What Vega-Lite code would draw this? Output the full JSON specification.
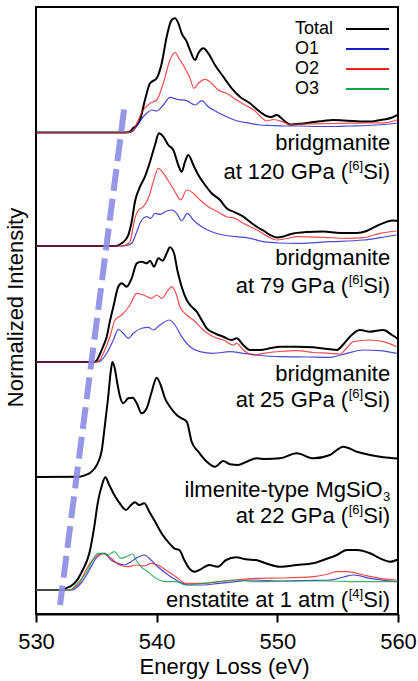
{
  "$schema": "https://vega.github.io/schema/vega-lite/v6.json",
  "autosize": "none",
  "width": 362,
  "height": 607,
  "padding": {"left": 36, "top": 7, "right": 20, "bottom": 67},
  "background": "white",
  "config": {
    "font": "Liberation Sans",
    "view": {"stroke": "#000", "strokeWidth": 2},
    "axis": {"grid": false}
  },
  "datasets": {
    "spectra": [
      {"sample":"120","site":"Total","ev":530,"int":481.5},
      {"sample":"120","site":"Total","ev":537.5,"int":481.5},
      {"sample":"120","site":"Total","ev":537.85,"int":483},
      {"sample":"120","site":"Total","ev":538.06,"int":486},
      {"sample":"120","site":"Total","ev":538.3,"int":488},
      {"sample":"120","site":"Total","ev":538.62,"int":494},
      {"sample":"120","site":"Total","ev":539.03,"int":514},
      {"sample":"120","site":"Total","ev":539.45,"int":530.7},
      {"sample":"120","site":"Total","ev":540.0,"int":535.7},
      {"sample":"120","site":"Total","ev":540.42,"int":550.7},
      {"sample":"120","site":"Total","ev":540.83,"int":577.3},
      {"sample":"120","site":"Total","ev":541.24,"int":594},
      {"sample":"120","site":"Total","ev":541.52,"int":595.7},
      {"sample":"120","site":"Total","ev":541.8,"int":590.7},
      {"sample":"120","site":"Total","ev":542.07,"int":580.7},
      {"sample":"120","site":"Total","ev":542.49,"int":572.3},
      {"sample":"120","site":"Total","ev":542.76,"int":564},
      {"sample":"120","site":"Total","ev":543.18,"int":554},
      {"sample":"120","site":"Total","ev":543.45,"int":560.7},
      {"sample":"120","site":"Total","ev":543.87,"int":565.7},
      {"sample":"120","site":"Total","ev":544.28,"int":560.7},
      {"sample":"120","site":"Total","ev":544.83,"int":549},
      {"sample":"120","site":"Total","ev":545.52,"int":537.3},
      {"sample":"120","site":"Total","ev":546.22,"int":525.7},
      {"sample":"120","site":"Total","ev":546.9,"int":517.3},
      {"sample":"120","site":"Total","ev":547.73,"int":510.7},
      {"sample":"120","site":"Total","ev":548.56,"int":502.3},
      {"sample":"120","site":"Total","ev":549.1,"int":498},
      {"sample":"120","site":"Total","ev":549.5,"int":497},
      {"sample":"120","site":"Total","ev":549.95,"int":499},
      {"sample":"120","site":"Total","ev":550.5,"int":494},
      {"sample":"120","site":"Total","ev":551.05,"int":489.5},
      {"sample":"120","site":"Total","ev":551.6,"int":490},
      {"sample":"120","site":"Total","ev":552.15,"int":490.5},
      {"sample":"120","site":"Total","ev":553.0,"int":492},
      {"sample":"120","site":"Total","ev":553.8,"int":493},
      {"sample":"120","site":"Total","ev":554.6,"int":494},
      {"sample":"120","site":"Total","ev":555.5,"int":493.5},
      {"sample":"120","site":"Total","ev":556.3,"int":493},
      {"sample":"120","site":"Total","ev":557.1,"int":492.5},
      {"sample":"120","site":"Total","ev":557.7,"int":492.5},
      {"sample":"120","site":"Total","ev":558.3,"int":493.5},
      {"sample":"120","site":"Total","ev":558.8,"int":494.5},
      {"sample":"120","site":"Total","ev":559.4,"int":496},
      {"sample":"120","site":"Total","ev":560,"int":499.5},

      {"sample":"120","site":"O2","ev":530,"int":481.5},
      {"sample":"120","site":"O2","ev":537.6,"int":481.5},
      {"sample":"120","site":"O2","ev":537.95,"int":483},
      {"sample":"120","site":"O2","ev":538.2,"int":486.5},
      {"sample":"120","site":"O2","ev":538.35,"int":490.7},
      {"sample":"120","site":"O2","ev":538.89,"int":504},
      {"sample":"120","site":"O2","ev":539.45,"int":510.7},
      {"sample":"120","site":"O2","ev":540.0,"int":514},
      {"sample":"120","site":"O2","ev":540.55,"int":530.7},
      {"sample":"120","site":"O2","ev":541.1,"int":554},
      {"sample":"120","site":"O2","ev":541.52,"int":561.3},
      {"sample":"120","site":"O2","ev":541.93,"int":554},
      {"sample":"120","site":"O2","ev":542.35,"int":545.7},
      {"sample":"120","site":"O2","ev":542.76,"int":535.7},
      {"sample":"120","site":"O2","ev":543.09,"int":525.7},
      {"sample":"120","site":"O2","ev":543.45,"int":530.7},
      {"sample":"120","site":"O2","ev":544.01,"int":534.7},
      {"sample":"120","site":"O2","ev":544.56,"int":530.7},
      {"sample":"120","site":"O2","ev":545.11,"int":524},
      {"sample":"120","site":"O2","ev":545.8,"int":520.7},
      {"sample":"120","site":"O2","ev":546.63,"int":514},
      {"sample":"120","site":"O2","ev":547.46,"int":508},
      {"sample":"120","site":"O2","ev":548.1,"int":503.5},
      {"sample":"120","site":"O2","ev":548.56,"int":498},
      {"sample":"120","site":"O2","ev":549.12,"int":493},
      {"sample":"120","site":"O2","ev":549.67,"int":494.5},
      {"sample":"120","site":"O2","ev":550.49,"int":492},
      {"sample":"120","site":"O2","ev":551.05,"int":489.5},
      {"sample":"120","site":"O2","ev":552.0,"int":490},
      {"sample":"120","site":"O2","ev":553.26,"int":490.2},
      {"sample":"120","site":"O2","ev":554.6,"int":490.5},
      {"sample":"120","site":"O2","ev":556.0,"int":490.9},
      {"sample":"120","site":"O2","ev":557.4,"int":491},
      {"sample":"120","site":"O2","ev":558.78,"int":491.2},
      {"sample":"120","site":"O2","ev":559.5,"int":492.5},
      {"sample":"120","site":"O2","ev":560,"int":494.5},

      {"sample":"120","site":"O1","ev":530,"int":481.5},
      {"sample":"120","site":"O1","ev":537.7,"int":481.5},
      {"sample":"120","site":"O1","ev":538.05,"int":483},
      {"sample":"120","site":"O1","ev":538.48,"int":490.7},
      {"sample":"120","site":"O1","ev":539.17,"int":500.7},
      {"sample":"120","site":"O1","ev":539.59,"int":504},
      {"sample":"120","site":"O1","ev":540.0,"int":503},
      {"sample":"120","site":"O1","ev":540.55,"int":509},
      {"sample":"120","site":"O1","ev":541.1,"int":516.7},
      {"sample":"120","site":"O1","ev":541.66,"int":514.7},
      {"sample":"120","site":"O1","ev":542.49,"int":513.3},
      {"sample":"120","site":"O1","ev":543.18,"int":509},
      {"sample":"120","site":"O1","ev":543.73,"int":513.3},
      {"sample":"120","site":"O1","ev":544.28,"int":507.3},
      {"sample":"120","site":"O1","ev":544.97,"int":502.3},
      {"sample":"120","site":"O1","ev":545.8,"int":497.3},
      {"sample":"120","site":"O1","ev":546.63,"int":493.3},
      {"sample":"120","site":"O1","ev":547.73,"int":490.7},
      {"sample":"120","site":"O1","ev":548.56,"int":489},
      {"sample":"120","site":"O1","ev":549.5,"int":488.5},
      {"sample":"120","site":"O1","ev":550.5,"int":488},
      {"sample":"120","site":"O1","ev":552,"int":488},
      {"sample":"120","site":"O1","ev":553.26,"int":487.5},
      {"sample":"120","site":"O1","ev":554.6,"int":487.5},
      {"sample":"120","site":"O1","ev":556.0,"int":488},
      {"sample":"120","site":"O1","ev":557.4,"int":488.5},
      {"sample":"120","site":"O1","ev":558.8,"int":489.5},
      {"sample":"120","site":"O1","ev":560,"int":491},

      {"sample":"79","site":"Total","ev":530,"int":368},
      {"sample":"79","site":"Total","ev":536.6,"int":368},
      {"sample":"79","site":"Total","ev":537.1,"int":370.7},
      {"sample":"79","site":"Total","ev":537.4,"int":374},
      {"sample":"79","site":"Total","ev":537.65,"int":379},
      {"sample":"79","site":"Total","ev":537.93,"int":392.3},
      {"sample":"79","site":"Total","ev":538.2,"int":412.3},
      {"sample":"79","site":"Total","ev":538.62,"int":427.3},
      {"sample":"79","site":"Total","ev":539.03,"int":437.3},
      {"sample":"79","site":"Total","ev":539.45,"int":452.3},
      {"sample":"79","site":"Total","ev":539.86,"int":469},
      {"sample":"79","site":"Total","ev":540.19,"int":480.7},
      {"sample":"79","site":"Total","ev":540.55,"int":477.3},
      {"sample":"79","site":"Total","ev":540.96,"int":469},
      {"sample":"79","site":"Total","ev":541.38,"int":464},
      {"sample":"79","site":"Total","ev":541.79,"int":449},
      {"sample":"79","site":"Total","ev":542.07,"int":442.3},
      {"sample":"79","site":"Total","ev":542.35,"int":452.3},
      {"sample":"79","site":"Total","ev":542.62,"int":459},
      {"sample":"79","site":"Total","ev":543.04,"int":449},
      {"sample":"79","site":"Total","ev":543.45,"int":439},
      {"sample":"79","site":"Total","ev":544.01,"int":429},
      {"sample":"79","site":"Total","ev":544.56,"int":420.7},
      {"sample":"79","site":"Total","ev":545.25,"int":414},
      {"sample":"79","site":"Total","ev":545.8,"int":405.7},
      {"sample":"79","site":"Total","ev":546.49,"int":401.7},
      {"sample":"79","site":"Total","ev":547.18,"int":397.3},
      {"sample":"79","site":"Total","ev":547.88,"int":390.7},
      {"sample":"79","site":"Total","ev":548.4,"int":386.5},
      {"sample":"79","site":"Total","ev":548.84,"int":383.5},
      {"sample":"79","site":"Total","ev":549.4,"int":379},
      {"sample":"79","site":"Total","ev":549.95,"int":376.5},
      {"sample":"79","site":"Total","ev":550.5,"int":377.5},
      {"sample":"79","site":"Total","ev":551.05,"int":379.8},
      {"sample":"79","site":"Total","ev":552.43,"int":382},
      {"sample":"79","site":"Total","ev":553.81,"int":382.5},
      {"sample":"79","site":"Total","ev":555.19,"int":381},
      {"sample":"79","site":"Total","ev":556.58,"int":381},
      {"sample":"79","site":"Total","ev":557.4,"int":383},
      {"sample":"79","site":"Total","ev":558.23,"int":388},
      {"sample":"79","site":"Total","ev":559.61,"int":393.5},
      {"sample":"79","site":"Total","ev":560,"int":393},

      {"sample":"79","site":"O2","ev":530,"int":368},
      {"sample":"79","site":"O2","ev":537.1,"int":368},
      {"sample":"79","site":"O2","ev":537.5,"int":369.5},
      {"sample":"79","site":"O2","ev":537.79,"int":372.3},
      {"sample":"79","site":"O2","ev":538.2,"int":395.7},
      {"sample":"79","site":"O2","ev":538.48,"int":404},
      {"sample":"79","site":"O2","ev":538.89,"int":407.3},
      {"sample":"79","site":"O2","ev":539.31,"int":415.7},
      {"sample":"79","site":"O2","ev":539.72,"int":432.3},
      {"sample":"79","site":"O2","ev":540.14,"int":445.7},
      {"sample":"79","site":"O2","ev":540.55,"int":440.7},
      {"sample":"79","site":"O2","ev":541.1,"int":430.7},
      {"sample":"79","site":"O2","ev":541.52,"int":422.3},
      {"sample":"79","site":"O2","ev":541.99,"int":414},
      {"sample":"79","site":"O2","ev":542.49,"int":424},
      {"sample":"79","site":"O2","ev":543.04,"int":420.7},
      {"sample":"79","site":"O2","ev":543.59,"int":414},
      {"sample":"79","site":"O2","ev":544.28,"int":407.3},
      {"sample":"79","site":"O2","ev":545.11,"int":401.7},
      {"sample":"79","site":"O2","ev":545.8,"int":397.3},
      {"sample":"79","site":"O2","ev":546.49,"int":395.7},
      {"sample":"79","site":"O2","ev":547.18,"int":390.7},
      {"sample":"79","site":"O2","ev":548.01,"int":385.7},
      {"sample":"79","site":"O2","ev":548.56,"int":382.3},
      {"sample":"79","site":"O2","ev":549.12,"int":378},
      {"sample":"79","site":"O2","ev":549.95,"int":374},
      {"sample":"79","site":"O2","ev":550.8,"int":375.5},
      {"sample":"79","site":"O2","ev":551.6,"int":377.3},
      {"sample":"79","site":"O2","ev":553.81,"int":376.7},
      {"sample":"79","site":"O2","ev":555.75,"int":375.7},
      {"sample":"79","site":"O2","ev":557.12,"int":376.3},
      {"sample":"79","site":"O2","ev":558.51,"int":380.7},
      {"sample":"79","site":"O2","ev":559.89,"int":383},

      {"sample":"79","site":"O1","ev":530,"int":368},
      {"sample":"79","site":"O1","ev":537.3,"int":368},
      {"sample":"79","site":"O1","ev":537.6,"int":368.8},
      {"sample":"79","site":"O1","ev":537.93,"int":370.7},
      {"sample":"79","site":"O1","ev":538.35,"int":382.3},
      {"sample":"79","site":"O1","ev":538.76,"int":394},
      {"sample":"79","site":"O1","ev":539.17,"int":397.3},
      {"sample":"79","site":"O1","ev":539.51,"int":395.7},
      {"sample":"79","site":"O1","ev":539.86,"int":400.7},
      {"sample":"79","site":"O1","ev":540.28,"int":399.7},
      {"sample":"79","site":"O1","ev":540.83,"int":403},
      {"sample":"79","site":"O1","ev":541.25,"int":404},
      {"sample":"79","site":"O1","ev":541.66,"int":400.7},
      {"sample":"79","site":"O1","ev":542.07,"int":393.3},
      {"sample":"79","site":"O1","ev":542.54,"int":400.7},
      {"sample":"79","site":"O1","ev":543.04,"int":394},
      {"sample":"79","site":"O1","ev":543.73,"int":387.3},
      {"sample":"79","site":"O1","ev":544.56,"int":382.3},
      {"sample":"79","site":"O1","ev":545.52,"int":379},
      {"sample":"79","site":"O1","ev":546.63,"int":377.3},
      {"sample":"79","site":"O1","ev":547.73,"int":375.7},
      {"sample":"79","site":"O1","ev":548.84,"int":372.3},
      {"sample":"79","site":"O1","ev":550.2,"int":371},
      {"sample":"79","site":"O1","ev":551.6,"int":370.7},
      {"sample":"79","site":"O1","ev":554.36,"int":372.3},
      {"sample":"79","site":"O1","ev":557.12,"int":374},
      {"sample":"79","site":"O1","ev":558.51,"int":376.3},
      {"sample":"79","site":"O1","ev":559.89,"int":379},

      {"sample":"25","site":"Total","ev":530,"int":252},
      {"sample":"25","site":"Total","ev":534.8,"int":252},
      {"sample":"25","site":"Total","ev":535.03,"int":253.5},
      {"sample":"25","site":"Total","ev":535.3,"int":260},
      {"sample":"25","site":"Total","ev":535.58,"int":268},
      {"sample":"25","site":"Total","ev":535.86,"int":277.3},
      {"sample":"25","site":"Total","ev":536.13,"int":293},
      {"sample":"25","site":"Total","ev":536.41,"int":307.3},
      {"sample":"25","site":"Total","ev":536.82,"int":327.3},
      {"sample":"25","site":"Total","ev":537.1,"int":330.7},
      {"sample":"25","site":"Total","ev":537.52,"int":327.3},
      {"sample":"25","site":"Total","ev":537.93,"int":335.7},
      {"sample":"25","site":"Total","ev":538.35,"int":350.7},
      {"sample":"25","site":"Total","ev":538.76,"int":352.3},
      {"sample":"25","site":"Total","ev":539.17,"int":350.7},
      {"sample":"25","site":"Total","ev":539.45,"int":353.3},
      {"sample":"25","site":"Total","ev":539.78,"int":347.3},
      {"sample":"25","site":"Total","ev":540.14,"int":355.7},
      {"sample":"25","site":"Total","ev":540.5,"int":353.3},
      {"sample":"25","site":"Total","ev":540.83,"int":360.7},
      {"sample":"25","site":"Total","ev":541.1,"int":366.7},
      {"sample":"25","site":"Total","ev":541.44,"int":360.7},
      {"sample":"25","site":"Total","ev":541.71,"int":344},
      {"sample":"25","site":"Total","ev":542.07,"int":327.3},
      {"sample":"25","site":"Total","ev":542.49,"int":314},
      {"sample":"25","site":"Total","ev":542.9,"int":307.3},
      {"sample":"25","site":"Total","ev":543.32,"int":302.3},
      {"sample":"25","site":"Total","ev":543.73,"int":294},
      {"sample":"25","site":"Total","ev":544.15,"int":285.7},
      {"sample":"25","site":"Total","ev":544.83,"int":280.7},
      {"sample":"25","site":"Total","ev":545.52,"int":277.3},
      {"sample":"25","site":"Total","ev":546.22,"int":274},
      {"sample":"25","site":"Total","ev":546.63,"int":275.7},
      {"sample":"25","site":"Total","ev":547.18,"int":269},
      {"sample":"25","site":"Total","ev":547.73,"int":264},
      {"sample":"25","site":"Total","ev":548.56,"int":264},
      {"sample":"25","site":"Total","ev":549.5,"int":266},
      {"sample":"25","site":"Total","ev":550.22,"int":267.3},
      {"sample":"25","site":"Total","ev":551.6,"int":267.3},
      {"sample":"25","site":"Total","ev":552.98,"int":266.7},
      {"sample":"25","site":"Total","ev":554.36,"int":264.7},
      {"sample":"25","site":"Total","ev":554.92,"int":264},
      {"sample":"25","site":"Total","ev":555.5,"int":270},
      {"sample":"25","site":"Total","ev":556.02,"int":277.3},
      {"sample":"25","site":"Total","ev":556.85,"int":284},
      {"sample":"25","site":"Total","ev":557.68,"int":282.3},
      {"sample":"25","site":"Total","ev":558.78,"int":284},
      {"sample":"25","site":"Total","ev":559.5,"int":279},
      {"sample":"25","site":"Total","ev":560,"int":275},

      {"sample":"25","site":"O2","ev":530,"int":252},
      {"sample":"25","site":"O2","ev":535.0,"int":252},
      {"sample":"25","site":"O2","ev":535.3,"int":254},
      {"sample":"25","site":"O2","ev":535.58,"int":260.7},
      {"sample":"25","site":"O2","ev":536.13,"int":277.3},
      {"sample":"25","site":"O2","ev":536.55,"int":294},
      {"sample":"25","site":"O2","ev":537.1,"int":299},
      {"sample":"25","site":"O2","ev":537.79,"int":309},
      {"sample":"25","site":"O2","ev":538.35,"int":320.7},
      {"sample":"25","site":"O2","ev":538.89,"int":319},
      {"sample":"25","site":"O2","ev":539.59,"int":315.7},
      {"sample":"25","site":"O2","ev":540.0,"int":319},
      {"sample":"25","site":"O2","ev":540.42,"int":315.7},
      {"sample":"25","site":"O2","ev":540.96,"int":324},
      {"sample":"25","site":"O2","ev":541.25,"int":327.3},
      {"sample":"25","site":"O2","ev":541.6,"int":320.7},
      {"sample":"25","site":"O2","ev":541.93,"int":307.3},
      {"sample":"25","site":"O2","ev":542.49,"int":299},
      {"sample":"25","site":"O2","ev":543.04,"int":294},
      {"sample":"25","site":"O2","ev":543.86,"int":284},
      {"sample":"25","site":"O2","ev":544.69,"int":277.3},
      {"sample":"25","site":"O2","ev":545.52,"int":274},
      {"sample":"25","site":"O2","ev":546.35,"int":269},
      {"sample":"25","site":"O2","ev":546.63,"int":270.7},
      {"sample":"25","site":"O2","ev":547.18,"int":264},
      {"sample":"25","site":"O2","ev":548.01,"int":259},
      {"sample":"25","site":"O2","ev":548.84,"int":260.7},
      {"sample":"25","site":"O2","ev":550.2,"int":262.5},
      {"sample":"25","site":"O2","ev":551.6,"int":263.3},
      {"sample":"25","site":"O2","ev":553.0,"int":261.5},
      {"sample":"25","site":"O2","ev":554.36,"int":260.7},
      {"sample":"25","site":"O2","ev":555.19,"int":260},
      {"sample":"25","site":"O2","ev":555.75,"int":266},
      {"sample":"25","site":"O2","ev":556.3,"int":272.3},
      {"sample":"25","site":"O2","ev":557.68,"int":274},
      {"sample":"25","site":"O2","ev":558.78,"int":272.3},
      {"sample":"25","site":"O2","ev":559.89,"int":267.3},

      {"sample":"25","site":"O1","ev":530,"int":252},
      {"sample":"25","site":"O1","ev":535.1,"int":252},
      {"sample":"25","site":"O1","ev":535.4,"int":253.5},
      {"sample":"25","site":"O1","ev":535.86,"int":260.7},
      {"sample":"25","site":"O1","ev":536.41,"int":274},
      {"sample":"25","site":"O1","ev":536.82,"int":284.7},
      {"sample":"25","site":"O1","ev":537.23,"int":280.7},
      {"sample":"25","site":"O1","ev":537.65,"int":275.7},
      {"sample":"25","site":"O1","ev":538.06,"int":280.7},
      {"sample":"25","site":"O1","ev":538.76,"int":285.7},
      {"sample":"25","site":"O1","ev":539.31,"int":286.7},
      {"sample":"25","site":"O1","ev":539.72,"int":284},
      {"sample":"25","site":"O1","ev":540.28,"int":289},
      {"sample":"25","site":"O1","ev":541.05,"int":294},
      {"sample":"25","site":"O1","ev":541.52,"int":289},
      {"sample":"25","site":"O1","ev":542.07,"int":277.3},
      {"sample":"25","site":"O1","ev":542.76,"int":267.3},
      {"sample":"25","site":"O1","ev":543.59,"int":262.3},
      {"sample":"25","site":"O1","ev":544.69,"int":260.7},
      {"sample":"25","site":"O1","ev":546.08,"int":262.3},
      {"sample":"25","site":"O1","ev":547.18,"int":260.7},
      {"sample":"25","site":"O1","ev":548.29,"int":259},
      {"sample":"25","site":"O1","ev":550.22,"int":257.3},
      {"sample":"25","site":"O1","ev":552.5,"int":257},
      {"sample":"25","site":"O1","ev":554.36,"int":256.7},
      {"sample":"25","site":"O1","ev":555.75,"int":260.7},
      {"sample":"25","site":"O1","ev":557.12,"int":264},
      {"sample":"25","site":"O1","ev":558.51,"int":263.3},
      {"sample":"25","site":"O1","ev":559.89,"int":260.7},

      {"sample":"22","site":"Total","ev":530,"int":137},
      {"sample":"22","site":"Total","ev":533.6,"int":137.3},
      {"sample":"22","site":"Total","ev":534.1,"int":139},
      {"sample":"22","site":"Total","ev":534.47,"int":141},
      {"sample":"22","site":"Total","ev":534.89,"int":146},
      {"sample":"22","site":"Total","ev":535.16,"int":152},
      {"sample":"22","site":"Total","ev":535.44,"int":163},
      {"sample":"22","site":"Total","ev":535.72,"int":190},
      {"sample":"22","site":"Total","ev":535.99,"int":218},
      {"sample":"22","site":"Total","ev":536.2,"int":243},
      {"sample":"22","site":"Total","ev":536.33,"int":252},
      {"sample":"22","site":"Total","ev":536.5,"int":247},
      {"sample":"22","site":"Total","ev":536.75,"int":230},
      {"sample":"22","site":"Total","ev":536.95,"int":218},
      {"sample":"22","site":"Total","ev":537.23,"int":210.7},
      {"sample":"22","site":"Total","ev":537.65,"int":215.7},
      {"sample":"22","site":"Total","ev":538.01,"int":216.3},
      {"sample":"22","site":"Total","ev":538.35,"int":210.7},
      {"sample":"22","site":"Total","ev":538.76,"int":200.7},
      {"sample":"22","site":"Total","ev":539.17,"int":205.7},
      {"sample":"22","site":"Total","ev":539.59,"int":222.3},
      {"sample":"22","site":"Total","ev":540.0,"int":236.3},
      {"sample":"22","site":"Total","ev":540.33,"int":229},
      {"sample":"22","site":"Total","ev":540.69,"int":215.7},
      {"sample":"22","site":"Total","ev":541.1,"int":207.3},
      {"sample":"22","site":"Total","ev":541.66,"int":199},
      {"sample":"22","site":"Total","ev":542.07,"int":195.7},
      {"sample":"22","site":"Total","ev":542.49,"int":192.3},
      {"sample":"22","site":"Total","ev":542.9,"int":172.3},
      {"sample":"22","site":"Total","ev":543.45,"int":162.3},
      {"sample":"22","site":"Total","ev":544.15,"int":152.3},
      {"sample":"22","site":"Total","ev":544.83,"int":147.3},
      {"sample":"22","site":"Total","ev":545.52,"int":153},
      {"sample":"22","site":"Total","ev":546.08,"int":149.7},
      {"sample":"22","site":"Total","ev":546.76,"int":149},
      {"sample":"22","site":"Total","ev":547.59,"int":153},
      {"sample":"22","site":"Total","ev":548.29,"int":155.7},
      {"sample":"22","site":"Total","ev":549.0,"int":155},
      {"sample":"22","site":"Total","ev":550.22,"int":155.7},
      {"sample":"22","site":"Total","ev":551.6,"int":160.7},
      {"sample":"22","site":"Total","ev":552.98,"int":155.7},
      {"sample":"22","site":"Total","ev":554.36,"int":159},
      {"sample":"22","site":"Total","ev":555.47,"int":167.3},
      {"sample":"22","site":"Total","ev":556.58,"int":162.3},
      {"sample":"22","site":"Total","ev":557.68,"int":159},
      {"sample":"22","site":"Total","ev":558.78,"int":156.7},
      {"sample":"22","site":"Total","ev":560,"int":155.5},

      {"sample":"1atm","site":"Total","ev":530,"int":24},
      {"sample":"1atm","site":"Total","ev":532.3,"int":24},
      {"sample":"1atm","site":"Total","ev":532.49,"int":25.7},
      {"sample":"1atm","site":"Total","ev":532.9,"int":28},
      {"sample":"1atm","site":"Total","ev":533.31,"int":32.3},
      {"sample":"1atm","site":"Total","ev":533.87,"int":44},
      {"sample":"1atm","site":"Total","ev":534.42,"int":60.7},
      {"sample":"1atm","site":"Total","ev":534.83,"int":87.3},
      {"sample":"1atm","site":"Total","ev":535.11,"int":110.7},
      {"sample":"1atm","site":"Total","ev":535.47,"int":129},
      {"sample":"1atm","site":"Total","ev":535.74,"int":136.7},
      {"sample":"1atm","site":"Total","ev":536.07,"int":129},
      {"sample":"1atm","site":"Total","ev":536.49,"int":119},
      {"sample":"1atm","site":"Total","ev":537.04,"int":109},
      {"sample":"1atm","site":"Total","ev":537.46,"int":104},
      {"sample":"1atm","site":"Total","ev":537.87,"int":109},
      {"sample":"1atm","site":"Total","ev":538.2,"int":111.7},
      {"sample":"1atm","site":"Total","ev":538.56,"int":109},
      {"sample":"1atm","site":"Total","ev":538.97,"int":110.7},
      {"sample":"1atm","site":"Total","ev":539.39,"int":102.3},
      {"sample":"1atm","site":"Total","ev":539.94,"int":90.7},
      {"sample":"1atm","site":"Total","ev":540.5,"int":79},
      {"sample":"1atm","site":"Total","ev":541.05,"int":70.7},
      {"sample":"1atm","site":"Total","ev":541.46,"int":65.7},
      {"sample":"1atm","site":"Total","ev":541.88,"int":64},
      {"sample":"1atm","site":"Total","ev":542.29,"int":54},
      {"sample":"1atm","site":"Total","ev":542.7,"int":45.7},
      {"sample":"1atm","site":"Total","ev":543.12,"int":42.3},
      {"sample":"1atm","site":"Total","ev":543.53,"int":44},
      {"sample":"1atm","site":"Total","ev":544.36,"int":49},
      {"sample":"1atm","site":"Total","ev":545.06,"int":47.3},
      {"sample":"1atm","site":"Total","ev":545.75,"int":54},
      {"sample":"1atm","site":"Total","ev":546.57,"int":56.7},
      {"sample":"1atm","site":"Total","ev":547.4,"int":54.7},
      {"sample":"1atm","site":"Total","ev":548.23,"int":54},
      {"sample":"1atm","site":"Total","ev":549.2,"int":50},
      {"sample":"1atm","site":"Total","ev":550.22,"int":47.3},
      {"sample":"1atm","site":"Total","ev":551.6,"int":49},
      {"sample":"1atm","site":"Total","ev":552.98,"int":50.7},
      {"sample":"1atm","site":"Total","ev":553.81,"int":54},
      {"sample":"1atm","site":"Total","ev":554.92,"int":59},
      {"sample":"1atm","site":"Total","ev":555.75,"int":64},
      {"sample":"1atm","site":"Total","ev":556.58,"int":64},
      {"sample":"1atm","site":"Total","ev":557.68,"int":60.7},
      {"sample":"1atm","site":"Total","ev":558.51,"int":55.7},
      {"sample":"1atm","site":"Total","ev":559.34,"int":52.3},
      {"sample":"1atm","site":"Total","ev":560,"int":54.5},

      {"sample":"1atm","site":"O1","ev":530,"int":24},
      {"sample":"1atm","site":"O1","ev":533.0,"int":24},
      {"sample":"1atm","site":"O1","ev":533.35,"int":26.5},
      {"sample":"1atm","site":"O1","ev":533.73,"int":30.7},
      {"sample":"1atm","site":"O1","ev":534.42,"int":44},
      {"sample":"1atm","site":"O1","ev":534.97,"int":55.7},
      {"sample":"1atm","site":"O1","ev":535.66,"int":60.7},
      {"sample":"1atm","site":"O1","ev":536.22,"int":54},
      {"sample":"1atm","site":"O1","ev":536.77,"int":50.7},
      {"sample":"1atm","site":"O1","ev":537.32,"int":49},
      {"sample":"1atm","site":"O1","ev":537.87,"int":52.3},
      {"sample":"1atm","site":"O1","ev":538.43,"int":56.7},
      {"sample":"1atm","site":"O1","ev":538.97,"int":59},
      {"sample":"1atm","site":"O1","ev":539.53,"int":54},
      {"sample":"1atm","site":"O1","ev":540.09,"int":47.3},
      {"sample":"1atm","site":"O1","ev":540.77,"int":40.7},
      {"sample":"1atm","site":"O1","ev":541.6,"int":34},
      {"sample":"1atm","site":"O1","ev":542.7,"int":29},
      {"sample":"1atm","site":"O1","ev":543.81,"int":29},
      {"sample":"1atm","site":"O1","ev":545.19,"int":30.7},
      {"sample":"1atm","site":"O1","ev":546.57,"int":32.3},
      {"sample":"1atm","site":"O1","ev":547.96,"int":34},
      {"sample":"1atm","site":"O1","ev":550.5,"int":33},
      {"sample":"1atm","site":"O1","ev":552.5,"int":33.5},
      {"sample":"1atm","site":"O1","ev":554.36,"int":34},
      {"sample":"1atm","site":"O1","ev":555.5,"int":37},
      {"sample":"1atm","site":"O1","ev":556.3,"int":39},
      {"sample":"1atm","site":"O1","ev":557.68,"int":35.7},
      {"sample":"1atm","site":"O1","ev":559.89,"int":32.3},

      {"sample":"1atm","site":"O2","ev":530,"int":24},
      {"sample":"1atm","site":"O2","ev":532.9,"int":24},
      {"sample":"1atm","site":"O2","ev":533.25,"int":27},
      {"sample":"1atm","site":"O2","ev":533.59,"int":30.7},
      {"sample":"1atm","site":"O2","ev":534.14,"int":44},
      {"sample":"1atm","site":"O2","ev":534.7,"int":54},
      {"sample":"1atm","site":"O2","ev":535.25,"int":60},
      {"sample":"1atm","site":"O2","ev":535.66,"int":60.7},
      {"sample":"1atm","site":"O2","ev":536.22,"int":55.7},
      {"sample":"1atm","site":"O2","ev":536.91,"int":49},
      {"sample":"1atm","site":"O2","ev":537.6,"int":47.3},
      {"sample":"1atm","site":"O2","ev":538.29,"int":49},
      {"sample":"1atm","site":"O2","ev":538.97,"int":48},
      {"sample":"1atm","site":"O2","ev":539.53,"int":50.7},
      {"sample":"1atm","site":"O2","ev":540.09,"int":49},
      {"sample":"1atm","site":"O2","ev":540.77,"int":44},
      {"sample":"1atm","site":"O2","ev":541.6,"int":37.3},
      {"sample":"1atm","site":"O2","ev":542.43,"int":30.7},
      {"sample":"1atm","site":"O2","ev":543.81,"int":30.7},
      {"sample":"1atm","site":"O2","ev":545.19,"int":32.3},
      {"sample":"1atm","site":"O2","ev":546.57,"int":34},
      {"sample":"1atm","site":"O2","ev":548.23,"int":35.7},
      {"sample":"1atm","site":"O2","ev":550.5,"int":36},
      {"sample":"1atm","site":"O2","ev":552.98,"int":37.3},
      {"sample":"1atm","site":"O2","ev":554.2,"int":40},
      {"sample":"1atm","site":"O2","ev":554.92,"int":42.3},
      {"sample":"1atm","site":"O2","ev":555.75,"int":42.3},
      {"sample":"1atm","site":"O2","ev":557.12,"int":39},
      {"sample":"1atm","site":"O2","ev":558.51,"int":35.7},
      {"sample":"1atm","site":"O2","ev":559.89,"int":34},

      {"sample":"1atm","site":"O3","ev":530,"int":24},
      {"sample":"1atm","site":"O3","ev":532.8,"int":24},
      {"sample":"1atm","site":"O3","ev":533.31,"int":29},
      {"sample":"1atm","site":"O3","ev":533.7,"int":34},
      {"sample":"1atm","site":"O3","ev":534.14,"int":40.7},
      {"sample":"1atm","site":"O3","ev":534.7,"int":54},
      {"sample":"1atm","site":"O3","ev":535.11,"int":60.7},
      {"sample":"1atm","site":"O3","ev":535.53,"int":60.7},
      {"sample":"1atm","site":"O3","ev":535.94,"int":59},
      {"sample":"1atm","site":"O3","ev":536.49,"int":62.3},
      {"sample":"1atm","site":"O3","ev":537.04,"int":55.7},
      {"sample":"1atm","site":"O3","ev":537.6,"int":58},
      {"sample":"1atm","site":"O3","ev":538.01,"int":60},
      {"sample":"1atm","site":"O3","ev":538.29,"int":54},
      {"sample":"1atm","site":"O3","ev":538.7,"int":47.3},
      {"sample":"1atm","site":"O3","ev":539.26,"int":42.3},
      {"sample":"1atm","site":"O3","ev":539.94,"int":35.7},
      {"sample":"1atm","site":"O3","ev":540.77,"int":32.3},
      {"sample":"1atm","site":"O3","ev":541.6,"int":32.3},
      {"sample":"1atm","site":"O3","ev":542.43,"int":29},
      {"sample":"1atm","site":"O3","ev":543.81,"int":30.7},
      {"sample":"1atm","site":"O3","ev":545.19,"int":32.3},
      {"sample":"1atm","site":"O3","ev":546.57,"int":34},
      {"sample":"1atm","site":"O3","ev":548.23,"int":32.3},
      {"sample":"1atm","site":"O3","ev":551,"int":33},
      {"sample":"1atm","site":"O3","ev":554,"int":33},
      {"sample":"1atm","site":"O3","ev":557.12,"int":32.3},
      {"sample":"1atm","site":"O3","ev":560,"int":32.3}
    ],
    "heads": [
      {"label": "bridgmanite", "int": 464},
      {"label": "bridgmanite", "int": 349},
      {"label": "bridgmanite", "int": 233}
    ],
    "conditions": [
      {"pre": "at 120 GPa (", "sup": "[6]", "post": "Si)", "int": 435.5},
      {"pre": "at 79 GPa (", "sup": "[6]", "post": "Si)", "int": 321.5},
      {"pre": "at 25 GPa (", "sup": "[6]", "post": "Si)", "int": 207},
      {"pre": "at 22 GPa (", "sup": "[6]", "post": "Si)", "int": 91},
      {"pre": "enstatite at 1 atm (", "sup": "[4]", "post": "Si)", "int": 7}
    ],
    "formula": [
      {"label": "ilmenite-type MgSiO", "sub": "3", "int": 117}
    ],
    "onset": [
      {"ev_top": 537.3, "int_top": 504.5, "ev_bottom": 531.99, "int_bottom": 9}
    ]
  },
  "layer": [
    {
      "data": {"name": "spectra"},
      "transform": [{"filter": "datum.site === 'Total'"}],
      "mark": {"type": "line", "interpolate": "monotone", "strokeWidth": 2},
      "encoding": {
        "x": {"field": "ev", "type": "quantitative",
              "scale": {"domain": [530, 560], "nice": false, "zero": false},
              "axis": {"title": "Energy Loss (eV)", "values": [530, 540, 550, 560], "format": "d",
                       "tickSize": 8, "tickWidth": 2, "tickColor": "#000",
                       "domainColor": "#000", "domainWidth": 2,
                       "labelFontSize": 22, "labelColor": "#000", "labelPadding": 9,
                       "labelOverlap": false, "labelFlush": false, "labelBound": false,
                       "titleFontSize": 22, "titleFontWeight": "normal", "titleColor": "#000",
                       "titleX": 188, "titleY": 59, "titleBaseline": "alphabetic", "titleAlign": "center"}},
        "y": {"field": "int", "type": "quantitative",
              "scale": {"domain": [0, 607], "nice": false, "zero": false},
              "axis": {"title": "Normalized Intensity", "labels": false, "ticks": false, "domain": false,
                       "titleFontSize": 22, "titleFontWeight": "normal", "titleColor": "#000",
                       "titleAngle": -90, "titleX": -14, "titleY": 300,
                       "titleBaseline": "alphabetic", "titleAlign": "center"}},
        "detail": {"field": "sample"},
        "color": {"field": "site", "type": "nominal",
                  "scale": {"domain": ["Total", "O1", "O2", "O3"],
                            "range": ["#000000", "#1c1cc4", "#ee2020", "#12a048"]},
                  "legend": {"title": null, "orient": "none", "legendX": 322.5, "legendY": 13,
                             "padding": 0, "symbolType": "M-4.3,0H4.3", "symbolSize": 100,
                             "symbolStrokeWidth": 2, "symbolOffset": 0,
                             "labelFont": "Liberation Sans", "labelFontSize": 18, "labelColor": "#000",
                             "labelOffset": -81.5, "labelLimit": 0, "rowPadding": 2}}
      }
    },
    {
      "data": {"name": "spectra"},
      "transform": [{"filter": "datum.site === 'O1'"}],
      "mark": {"type": "line", "interpolate": "monotone", "strokeWidth": 1.2, "strokeOpacity": 0.8},
      "encoding": {
        "x": {"field": "ev", "type": "quantitative"},
        "y": {"field": "int", "type": "quantitative"},
        "detail": {"field": "sample"},
        "color": {"field": "site", "type": "nominal"}
      }
    },
    {
      "data": {"name": "spectra"},
      "transform": [{"filter": "datum.site === 'O2'"}],
      "mark": {"type": "line", "interpolate": "monotone", "strokeWidth": 1.2, "strokeOpacity": 0.8},
      "encoding": {
        "x": {"field": "ev", "type": "quantitative"},
        "y": {"field": "int", "type": "quantitative"},
        "detail": {"field": "sample"},
        "color": {"field": "site", "type": "nominal"}
      }
    },
    {
      "data": {"name": "spectra"},
      "transform": [{"filter": "datum.site === 'O3'"}],
      "mark": {"type": "line", "interpolate": "monotone", "strokeWidth": 1.2, "strokeOpacity": 0.8},
      "encoding": {
        "x": {"field": "ev", "type": "quantitative"},
        "y": {"field": "int", "type": "quantitative"},
        "detail": {"field": "sample"},
        "color": {"field": "site", "type": "nominal"}
      }
    },
    {
      "data": {"name": "onset"},
      "mark": {"type": "rule", "strokeWidth": 6, "strokeDash": [22, 8], "strokeCap": "butt",
               "color": "#8c8ce6", "opacity": 0.9},
      "encoding": {
        "x": {"field": "ev_top", "type": "quantitative"},
        "y": {"field": "int_top", "type": "quantitative"},
        "x2": {"field": "ev_bottom"},
        "y2": {"field": "int_bottom"}
      }
    },
    {
      "data": {"name": "heads"},
      "mark": {"type": "text", "align": "right", "baseline": "alphabetic", "fontSize": 22, "color": "#000"},
      "encoding": {
        "x": {"datum": 559.35, "type": "quantitative"},
        "y": {"field": "int", "type": "quantitative"},
        "text": {"field": "label"}
      }
    },
    {
      "data": {"name": "formula"},
      "mark": {"type": "text", "align": "right", "baseline": "alphabetic", "fontSize": 22, "color": "#000", "dx": -7.5},
      "encoding": {
        "x": {"datum": 559.35, "type": "quantitative"},
        "y": {"field": "int", "type": "quantitative"},
        "text": {"field": "label"}
      }
    },
    {
      "data": {"name": "formula"},
      "mark": {"type": "text", "align": "right", "baseline": "alphabetic", "fontSize": 13, "color": "#000", "dy": 4},
      "encoding": {
        "x": {"datum": 559.35, "type": "quantitative"},
        "y": {"field": "int", "type": "quantitative"},
        "text": {"field": "sub"}
      }
    },
    {
      "data": {"name": "conditions"},
      "mark": {"type": "text", "align": "right", "baseline": "alphabetic", "fontSize": 22, "color": "#000", "dx": -42},
      "encoding": {
        "x": {"datum": 559.35, "type": "quantitative"},
        "y": {"field": "int", "type": "quantitative"},
        "text": {"field": "pre"}
      }
    },
    {
      "data": {"name": "conditions"},
      "mark": {"type": "text", "align": "right", "baseline": "alphabetic", "fontSize": 13, "color": "#000", "dx": -27, "dy": -9},
      "encoding": {
        "x": {"datum": 559.35, "type": "quantitative"},
        "y": {"field": "int", "type": "quantitative"},
        "text": {"field": "sup"}
      }
    },
    {
      "data": {"name": "conditions"},
      "mark": {"type": "text", "align": "right", "baseline": "alphabetic", "fontSize": 22, "color": "#000"},
      "encoding": {
        "x": {"datum": 559.35, "type": "quantitative"},
        "y": {"field": "int", "type": "quantitative"},
        "text": {"field": "post"}
      }
    }
  ]
}
